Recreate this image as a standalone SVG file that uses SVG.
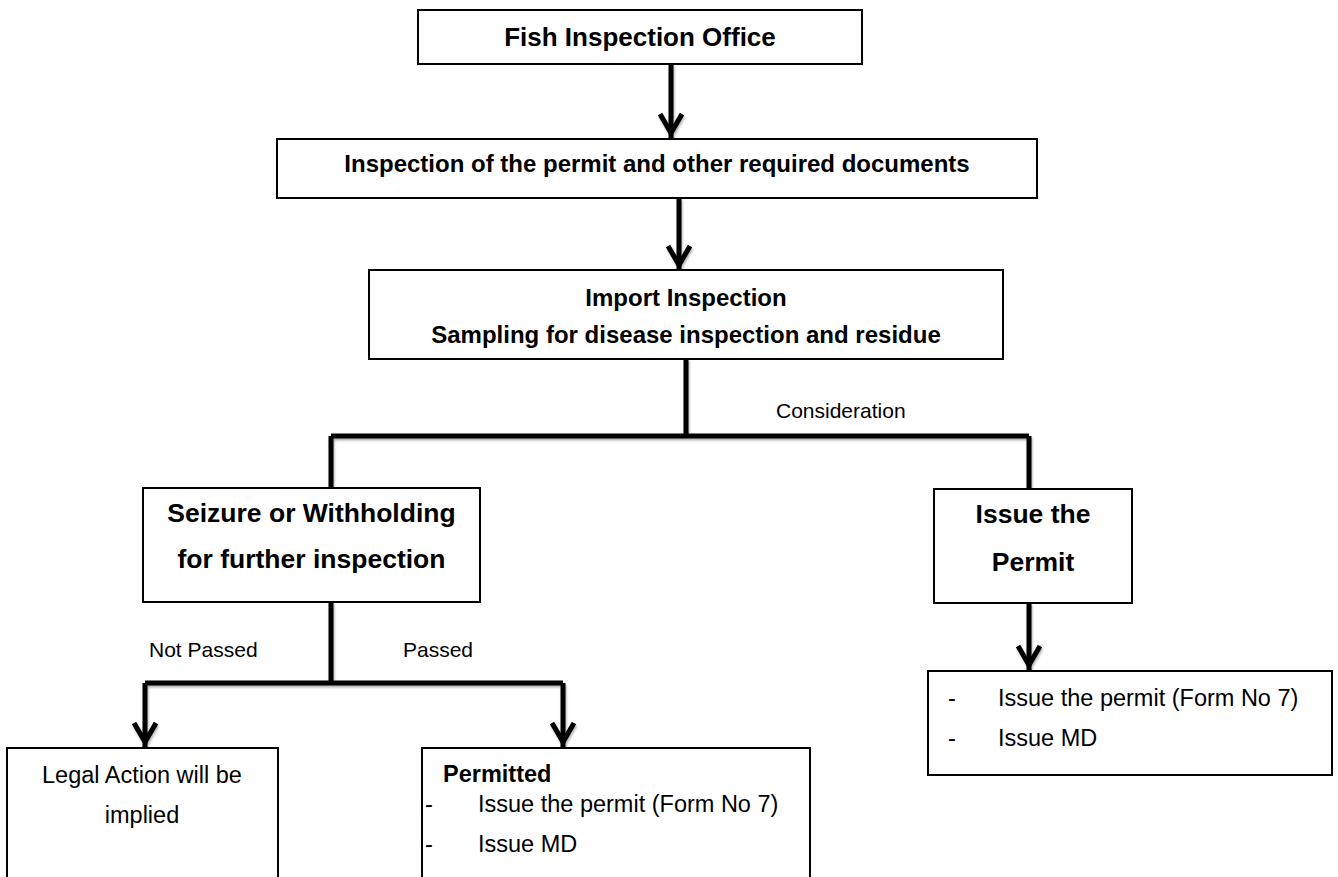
<svg xmlns="http://www.w3.org/2000/svg" width="1338" height="877" viewBox="0 0 1338 877">
<defs>
<style>
.box{fill:#fff;stroke:#000;stroke-width:2}
.b{font-family:"Liberation Sans",Arial,sans-serif;font-weight:bold;fill:#000}
.r{font-family:"Liberation Sans",Arial,sans-serif;fill:#000}
.c{fill:none;stroke:#000;stroke-width:5}
</style>
<marker id="arr" viewBox="-26 -16 32 32" refX="0" refY="0" markerWidth="32" markerHeight="32" markerUnits="userSpaceOnUse" orient="auto">
<path d="M-24,-11 L-5,0 L-24,11" fill="none" stroke="#000" stroke-width="5" stroke-linejoin="miter"/>
</marker>
<filter id="sh" x="-20%" y="-20%" width="140%" height="140%">
<feDropShadow dx="1" dy="2" stdDeviation="1.2" flood-color="#000" flood-opacity="0.3"/>
</filter>
</defs>
<rect width="1338" height="877" fill="#fff"/>
<g id="connectors">
<g filter="url(#sh)">
<path class="c" d="M671,64 V138" marker-end="url(#arr)"/>
<path class="c" d="M679,198 V270" marker-end="url(#arr)"/>
<path class="c" d="M686,359 V436"/>
<path class="c" d="M331,436 H1029"/>
<path class="c" d="M331,436 V488"/>
<path class="c" d="M1029,436 V489"/>
<path class="c" d="M331,602 V683"/>
<path class="c" d="M145,683 H563"/>
<path class="c" d="M145,683 V747" marker-end="url(#arr)"/>
<path class="c" d="M563,683 V747" marker-end="url(#arr)"/>
<path class="c" d="M1029,603 V670" marker-end="url(#arr)"/>
</g>
<text class="r" x="776" y="418" font-size="21">Consideration</text>
<text class="r" x="149" y="657" font-size="21">Not Passed</text>
<text class="r" x="403" y="657" font-size="21">Passed</text>
</g>
<g id="n1">
<rect class="box" x="418" y="10" width="444" height="54"/>
<text class="b" x="640" y="46" font-size="26" text-anchor="middle">Fish Inspection Office</text>
</g>
<g id="n2">
<rect class="box" x="277" y="139" width="760" height="59"/>
<text class="b" x="657" y="172" font-size="24" text-anchor="middle">Inspection of the permit and other required documents</text>
</g>
<g id="n3">
<rect class="box" x="369" y="270" width="634" height="89"/>
<text class="b" x="686" y="306" font-size="24" text-anchor="middle">Import Inspection</text>
<text class="b" x="686" y="343" font-size="24" text-anchor="middle">Sampling for disease inspection and residue</text>
</g>
<g id="n4">
<rect class="box" x="143" y="488" width="337" height="114"/>
<text class="b" x="311.5" y="522" font-size="26.5" text-anchor="middle">Seizure or Withholding</text>
<text class="b" x="311.5" y="568" font-size="26.5" text-anchor="middle">for further inspection</text>
</g>
<g id="n5">
<rect class="box" x="934" y="489" width="198" height="114"/>
<text class="b" x="1033" y="523" font-size="26.5" text-anchor="middle">Issue the</text>
<text class="b" x="1033" y="571" font-size="26.5" text-anchor="middle">Permit</text>
</g>
<g id="n6">
<rect class="box" x="7" y="748" width="271" height="140"/>
<text class="r" x="142" y="783" font-size="23.5" text-anchor="middle">Legal Action will be</text>
<text class="r" x="142" y="823" font-size="23.5" text-anchor="middle">implied</text>
</g>
<g id="n7">
<rect class="box" x="422" y="748" width="388" height="140"/>
<text class="b" x="443" y="782" font-size="23.5">Permitted</text>
<text class="r" x="425" y="812" font-size="23.5">-</text>
<text class="r" x="478" y="812" font-size="23.5">Issue the permit (Form No 7)</text>
<text class="r" x="425" y="852" font-size="23.5">-</text>
<text class="r" x="478" y="852" font-size="23.5">Issue MD</text>
</g>
<g id="n8">
<rect class="box" x="928" y="671" width="404" height="104"/>
<text class="r" x="948" y="706" font-size="23.5">-</text>
<text class="r" x="998" y="706" font-size="23.5">Issue the permit (Form No 7)</text>
<text class="r" x="948" y="746" font-size="23.5">-</text>
<text class="r" x="998" y="746" font-size="23.5">Issue MD</text>
</g>
</svg>
